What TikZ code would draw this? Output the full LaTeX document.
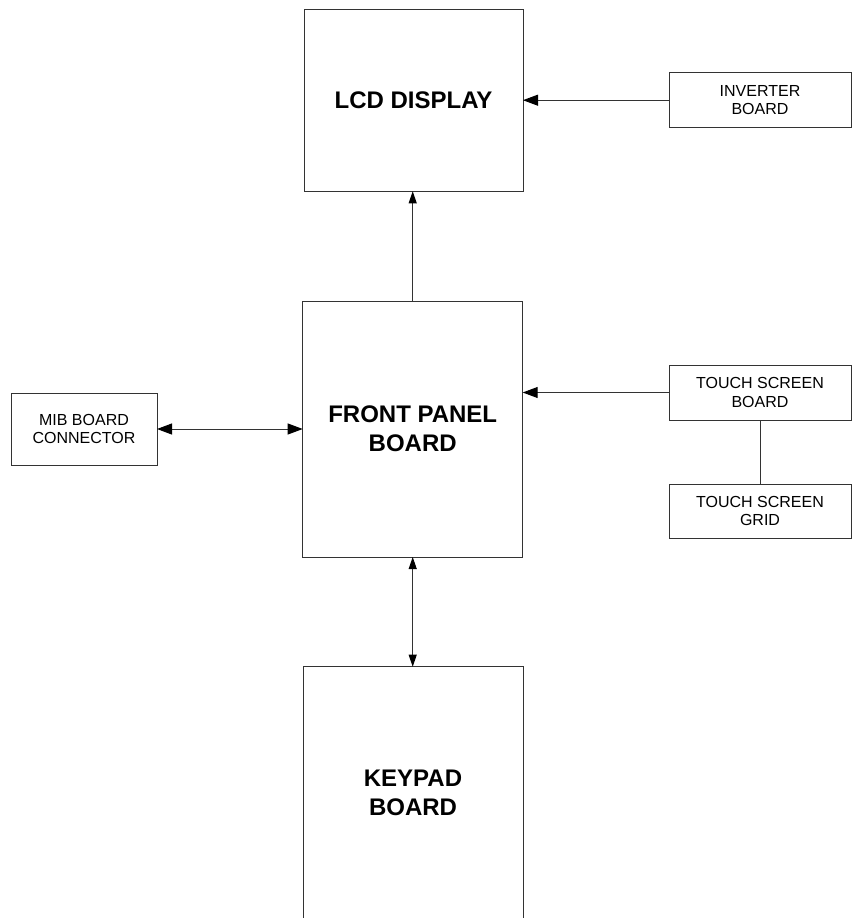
\documentclass[tikz,border=0pt]{standalone}
\usepackage{fontspec}
\setmainfont{Liberation Sans}
\usetikzlibrary{arrows.meta}
\begin{document}
\begin{tikzpicture}[x=1pt,y=-1pt,
  box/.style={draw=black!80,line width=1pt,rectangle,inner sep=0pt,outer sep=0pt,align=center},
  bigbox/.style={box,font=\fontsize{24}{29}\selectfont\bfseries},
  smallbox/.style={box,font=\fontsize{16}{18.7}\selectfont},
  link/.style={draw=black!80,line width=1pt},
  harrow/.style={link,-{Triangle[length=15pt,width=11pt,color=black]}},
  hharrow/.style={link,{Triangle[length=15pt,width=11pt,color=black]}-{Triangle[length=15pt,width=11pt,color=black]}},
  varrow/.style={link,-{Triangle[length=12pt,width=8pt,color=black]}},
  vvarrow/.style={link,{Triangle[length=12pt,width=8pt,color=black]}-{Triangle[length=12pt,width=8pt,color=black]}}
]
\useasboundingbox (0,0) rectangle (852,918);
\clip (0,0) rectangle (852,918);
\node[bigbox,minimum width=219pt,minimum height=182pt] (lcd) at (413.5,100.3) {LCD DISPLAY};
\node[smallbox,minimum width=182pt,minimum height=55pt] (inv) at (760,100.2) {INVERTER\\BOARD};
\node[bigbox,minimum width=220pt,minimum height=256pt] (fpb) at (412.7,429) {FRONT PANEL\\BOARD};
\node[smallbox,minimum width=146pt,minimum height=72pt] (mib) at (84,429) {MIB BOARD\\CONNECTOR};
\node[smallbox,minimum width=182pt,minimum height=55pt] (tsb) at (760,392.5) {TOUCH SCREEN\\BOARD};
\node[smallbox,minimum width=182pt,minimum height=54pt] (tsg) at (760,511) {TOUCH SCREEN\\GRID};
\node[bigbox,minimum width=220pt,minimum height=253pt] (key) at (413,793.2) {KEYPAD\\BOARD};
\draw[harrow] (inv.west) -- (inv.west -| lcd.east);
\draw[varrow] (fpb.north) -- (fpb.north |- lcd.south);
\draw[harrow] (tsb.west) -- (tsb.west -| fpb.east);
\draw[hharrow] (mib.east) -- (mib.east -| fpb.west);
\draw[link] (tsb.south) -- (tsg.north);
\draw[vvarrow] (fpb.south) -- (fpb.south |- key.north);
\end{tikzpicture}
\end{document}
